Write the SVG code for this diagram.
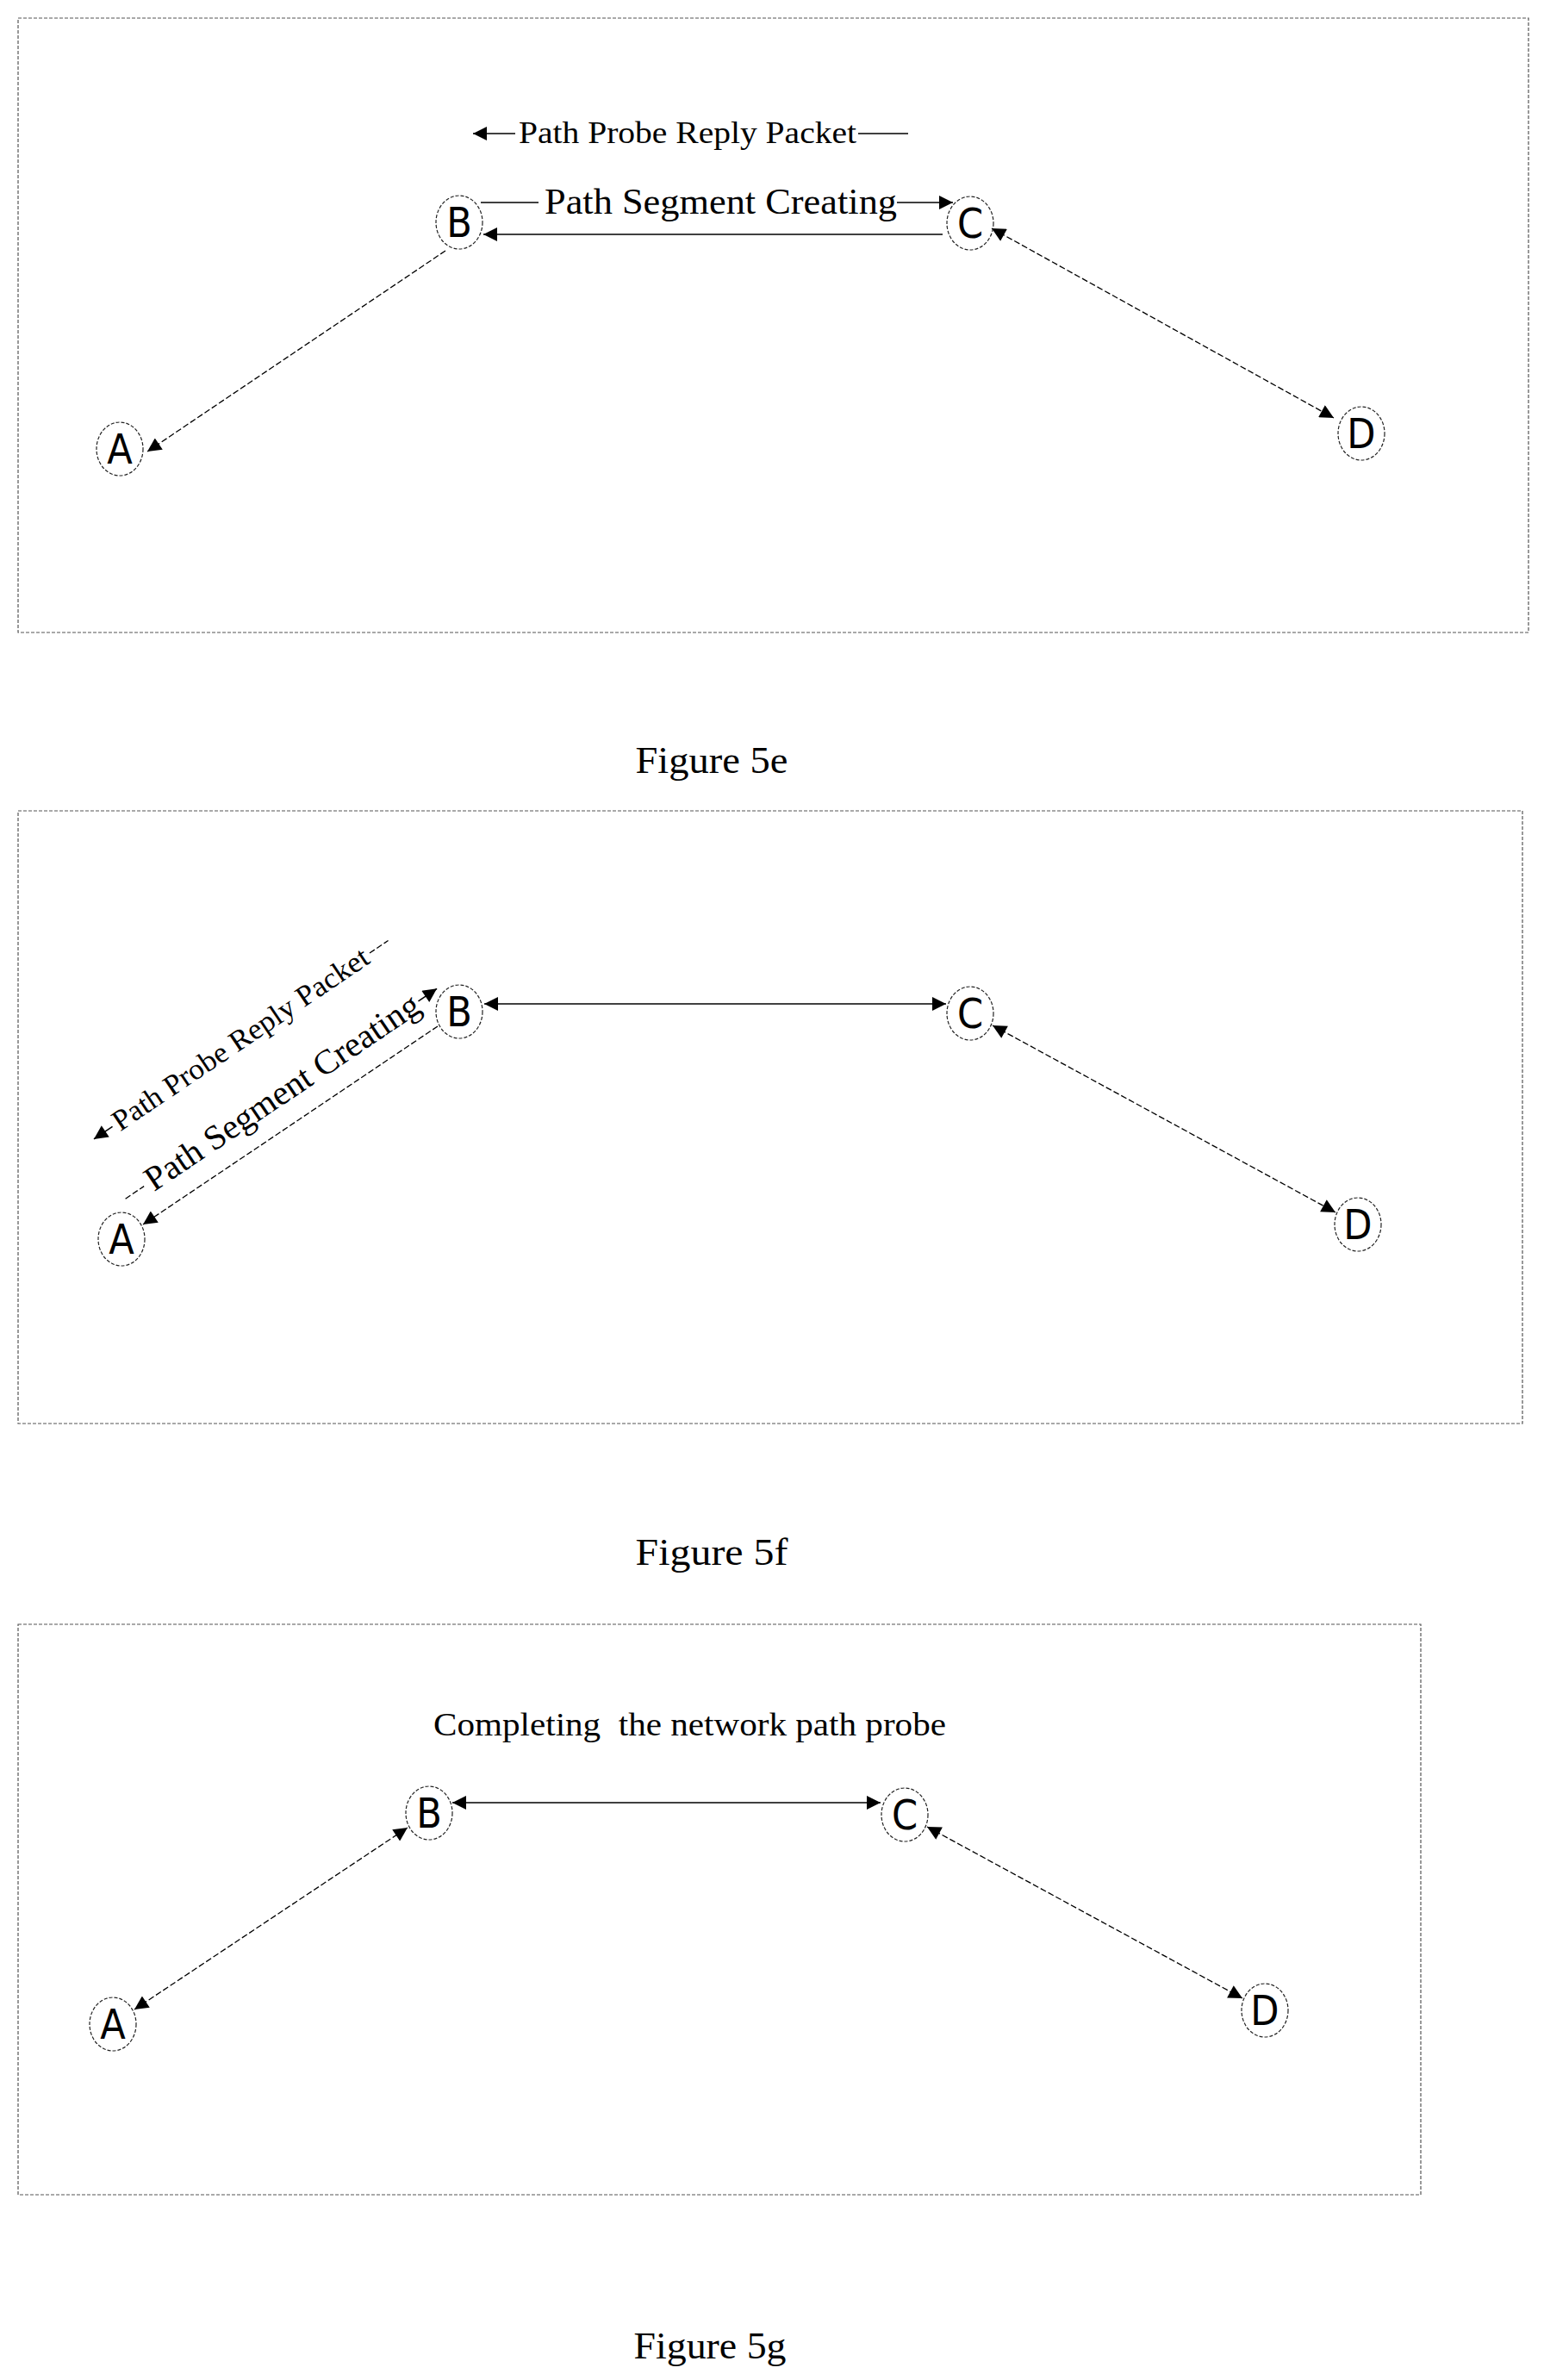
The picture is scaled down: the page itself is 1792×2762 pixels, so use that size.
<svg xmlns="http://www.w3.org/2000/svg" width="1792" height="2762" viewBox="0 0 1792 2762">
<style>
.frame{fill:none;stroke:#555;stroke-width:1.2;stroke-dasharray:4,2}
.node ellipse{fill:none;stroke:#222;stroke-width:1.2;stroke-dasharray:4,2}
.node text{font-family:"DejaVu Sans Condensed","DejaVu Sans",sans-serif;font-size:48px;text-anchor:middle;fill:#000}
.solid{stroke:#000;stroke-width:1.6;fill:none}
.dash{stroke:#000;stroke-width:1.3;fill:none;stroke-dasharray:7,3}
.lbl{font-family:"Liberation Serif",serif;fill:#000}
.cap{font-family:"Liberation Serif",serif;font-size:44px;text-anchor:middle;fill:#000}
</style>
<defs>
<marker id="ar" viewBox="0 0 10 10" refX="10" refY="5" markerWidth="18" markerHeight="16" markerUnits="userSpaceOnUse" orient="auto-start-reverse"><path d="M0,0 L10,5 L0,10 z" fill="#000"/></marker>
</defs>
<rect width="1792" height="2762" fill="#fff"/>
<!-- Figure 5e -->
<rect class="frame" x="21" y="21" width="1753" height="713"/>
<g id="e-A" class="node"><ellipse cx="139" cy="521" rx="27" ry="31"/><text x="139" y="538">A</text></g>
<g id="e-B" class="node"><ellipse cx="533" cy="258" rx="27" ry="31"/><text x="533" y="275">B</text></g>
<g id="e-C" class="node"><ellipse cx="1126" cy="259" rx="27" ry="31"/><text x="1126" y="276">C</text></g>
<g id="e-D" class="node"><ellipse cx="1580" cy="503" rx="27" ry="31"/><text x="1580" y="520">D</text></g>
<g id="e-conn">
<line class="solid" x1="598" y1="155" x2="549" y2="155" marker-end="url(#ar)"/>
<line class="solid" x1="996" y1="155" x2="1054" y2="155"/>
<line class="solid" x1="558" y1="235" x2="625" y2="235"/>
<line class="solid" x1="1041" y1="235" x2="1106" y2="235" marker-end="url(#ar)"/>
<line class="solid" x1="1094" y1="272" x2="561" y2="272" marker-end="url(#ar)"/>
<line class="dash" x1="517" y1="291" x2="171" y2="524" marker-end="url(#ar)"/>
<line class="dash" x1="1151" y1="265" x2="1548" y2="485" marker-start="url(#ar)" marker-end="url(#ar)"/>
</g>
<text class="lbl" x="602" y="166" font-size="36" textLength="392" lengthAdjust="spacingAndGlyphs">Path Probe Reply Packet</text>
<text class="lbl" x="632" y="248" font-size="42" textLength="409" lengthAdjust="spacingAndGlyphs">Path Segment Creating</text>
<text class="cap" x="826" y="897" textLength="177" lengthAdjust="spacingAndGlyphs">Figure 5e</text>
<!-- Figure 5f -->
<rect class="frame" x="21" y="941" width="1746" height="711"/>
<g id="f-A" class="node"><ellipse cx="141" cy="1438" rx="27" ry="31"/><text x="141" y="1455">A</text></g>
<g id="f-B" class="node"><ellipse cx="533" cy="1174" rx="27" ry="31"/><text x="533" y="1191">B</text></g>
<g id="f-C" class="node"><ellipse cx="1126" cy="1176" rx="27" ry="31"/><text x="1126" y="1193">C</text></g>
<g id="f-D" class="node"><ellipse cx="1576" cy="1421" rx="27" ry="31"/><text x="1576" y="1438">D</text></g>
<g id="f-conn">
<line class="solid" x1="562" y1="1165" x2="1098" y2="1165" marker-start="url(#ar)" marker-end="url(#ar)"/>
<line class="dash" x1="508" y1="1191" x2="166" y2="1421" marker-end="url(#ar)"/>
<line class="dash" x1="1152" y1="1190" x2="1550" y2="1407" marker-start="url(#ar)" marker-end="url(#ar)"/>
<g transform="translate(333,1272) rotate(-34)">
<line class="dash" x1="-222" y1="-6" x2="-196" y2="-6"/>
<line class="solid" x1="188" y1="-6" x2="214" y2="-6" marker-end="url(#ar)"/>
<text class="lbl" x="-190" y="6" font-size="40" textLength="376" lengthAdjust="spacingAndGlyphs">Path Segment Creating</text>
</g>
<g transform="translate(282,1210) rotate(-34)">
<line class="solid" x1="-180" y1="-4" x2="-206" y2="-4" marker-end="url(#ar)"/>
<line class="dash" x1="180" y1="-4" x2="206" y2="-4"/>
<text class="lbl" x="-176" y="6" font-size="34" textLength="352" lengthAdjust="spacingAndGlyphs">Path Probe Reply Packet</text>
</g>
</g>
<text class="cap" x="826" y="1816" textLength="177" lengthAdjust="spacingAndGlyphs">Figure 5f</text>
<!-- Figure 5g -->
<rect class="frame" x="21" y="1885" width="1628" height="662"/>
<g id="g-A" class="node"><ellipse cx="131" cy="2349" rx="27" ry="31"/><text x="131" y="2366">A</text></g>
<g id="g-B" class="node"><ellipse cx="498" cy="2104" rx="27" ry="31"/><text x="498" y="2121">B</text></g>
<g id="g-C" class="node"><ellipse cx="1050" cy="2106" rx="27" ry="31"/><text x="1050" y="2123">C</text></g>
<g id="g-D" class="node"><ellipse cx="1468" cy="2333" rx="27" ry="31"/><text x="1468" y="2350">D</text></g>
<g id="g-conn">
<line class="dash" x1="156" y1="2332" x2="473" y2="2121" marker-start="url(#ar)" marker-end="url(#ar)"/>
<line class="solid" x1="525" y1="2092" x2="1022" y2="2092" marker-start="url(#ar)" marker-end="url(#ar)"/>
<line class="dash" x1="1076" y1="2120" x2="1442" y2="2319" marker-start="url(#ar)" marker-end="url(#ar)"/>
</g>
<text class="lbl" x="503" y="2014" font-size="38" textLength="595" lengthAdjust="spacingAndGlyphs" xml:space="preserve">Completing  the network path probe</text>
<text class="cap" x="824" y="2737" textLength="177" lengthAdjust="spacingAndGlyphs">Figure 5g</text>
</svg>
